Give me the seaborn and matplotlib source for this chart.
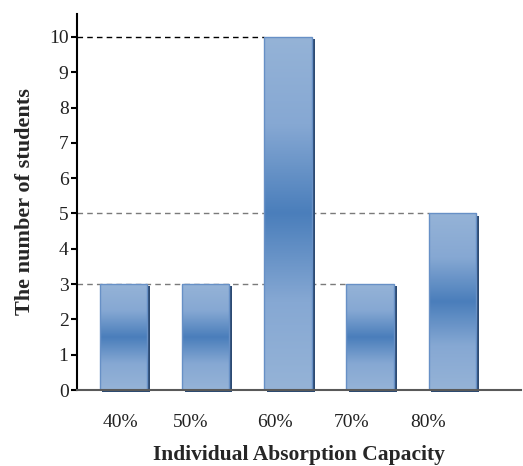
import numpy as np
import pandas as pd
import matplotlib.pyplot as plt
import seaborn as sns
from matplotlib.patches import Rectangle
from matplotlib.colors import LinearSegmentedColormap
import matplotlib.transforms as mtransforms

# chart data
categories = ['40%', '50%', '60%', '70%', '80%']
students = [3, 3, 10, 3, 5]
y_ticks = list(range(0, 11))

data = pd.DataFrame({'capacity': categories, 'students': students})

sns.set_style('white')
plt.rcParams['font.family'] = ['Liberation Serif', 'DejaVu Serif']

fig = plt.figure(figsize=(5.23, 4.66), dpi=100)
ax = fig.add_axes([0.147, 0.163, 0.849, 0.807])

bar_w = 0.58
sns.barplot(data=data, x='capacity', y='students', order=categories,
            color='#95b3d7', width=bar_w, edgecolor='#6790c6', linewidth=1.0,
            ax=ax, zorder=3)

# gradient fill (light - dark - light) + drop shadow for each bar
grad = LinearSegmentedColormap.from_list('bar', ['#95b3d7', '#86a8d3', '#4a7ebb', '#86a8d3', '#95b3d7'])
shadow_off = mtransforms.ScaledTranslation(2 / 72, -1.5 / 72, fig.dpi_scale_trans)
for p in list(ax.patches):
    x0, y0 = p.get_x(), p.get_y()
    w, h = p.get_width(), p.get_height()
    sh = Rectangle((x0, y0), w, h, facecolor='#2c4a72', edgecolor='none',
                   transform=ax.transData + shadow_off, zorder=2, clip_on=False)
    ax.add_patch(sh)
    img = ax.imshow(np.linspace(0, 1, 256).reshape(-1, 1), cmap=grad, aspect='auto',
                    extent=(x0, x0 + w, y0, y0 + h), origin='lower', zorder=3.5)
    img.set_clip_path(p)
    p.set_facecolor('none')
    p.set_zorder(4)

ax.set_xlim(-0.565, 4.833)
ax.set_ylim(0, 10.65)

# dashed guide lines from y-axis to the last bar with that value
for v in sorted(set(students)):
    last = max(i for i, s in enumerate(students) if s == v)
    col = 'black' if v == max(students) else '#7a7a7a'
    ax.hlines(v, -0.565, last - bar_w / 2, colors=col, linestyles=(0, (4, 3)),
              linewidth=1.0, zorder=1)

# category labels sit a little left of the bar centres, as in the original
label_shift = [-0.04, -0.18, -0.16, -0.22, -0.30]
ax.set_xticks([i + d for i, d in enumerate(label_shift)])
ax.set_xticklabels(categories)

ax.set_yticks(y_ticks)
ax.set_yticklabels([str(t) for t in y_ticks])
ax.tick_params(axis='y', left=True, length=4, width=1.5, color='black',
               labelsize=14, labelcolor='#222222', pad=2)
ax.tick_params(axis='x', bottom=False, labelsize=14, labelcolor='#222222', pad=14)

for s in ['top', 'right']:
    ax.spines[s].set_visible(False)
ax.spines['left'].set_color('black')
ax.spines['left'].set_linewidth(1.5)
ax.spines['bottom'].set_color('#595959')
ax.spines['bottom'].set_linewidth(1.5)
ax.spines['bottom'].set_zorder(5)

ax.set_xlabel('Individual Absorption Capacity', fontsize=15.5, fontweight='bold', labelpad=10)
ax.set_ylabel('The number of students', fontsize=16, fontweight='bold', labelpad=10)

fig.savefig('out.png', dpi=100)
